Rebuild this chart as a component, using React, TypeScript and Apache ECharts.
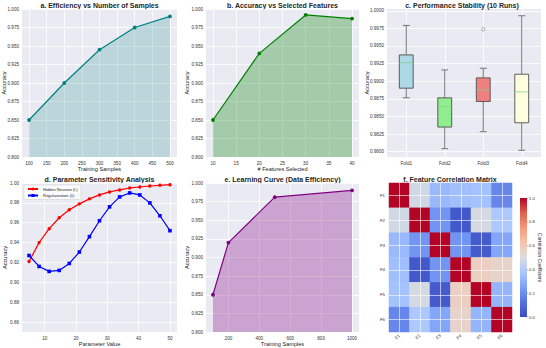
import React, { useEffect, useRef } from 'react';
import * as echarts from 'echarts';

// a. accuracy vs number of training samples
const samplesA = [100, 200, 300, 400, 500];
const accuracyA = [0.85, 0.9, 0.945, 0.975, 0.99];

// b. accuracy vs number of selected features
const featuresB = [10, 20, 30, 40];
const accuracyB = [0.85, 0.94, 0.992, 0.987];

// c. accuracy over 10 runs per fold: [min, q1, median, q3, max]
const folds = ['Fold1', 'Fold2', 'Fold3', 'Fold4'];
const foldStats = [
  [0.98764, 0.98901, 0.99264, 0.99373, 0.99792],
  [0.98042, 0.98349, 0.98637, 0.98764, 0.9916],
  [0.98283, 0.98712, 0.98877, 0.99047, 0.99184],
  [0.98019, 0.9841, 0.98849, 0.99099, 0.99929],
];
const foldOutliers = [[3, 0.99736]];
const foldColors = ['#add8e6', '#90ee90', '#f08080', '#ffffe0'];

// d. parameter sensitivity
const paramValues = [5.0, 8.21, 11.43, 14.64, 17.86, 21.07, 24.29, 27.5, 30.71, 33.93, 37.14, 40.36, 43.57, 46.79, 50.0];
const hiddenNeurons = [0.921, 0.94, 0.954, 0.965, 0.973, 0.979, 0.984, 0.988, 0.991, 0.993, 0.995, 0.996, 0.997, 0.9977, 0.9983];
const regularization = [0.927, 0.916, 0.911, 0.912, 0.919, 0.9305, 0.946, 0.962, 0.976, 0.986, 0.99, 0.988, 0.98, 0.967, 0.952];

// e. learning curve
const samplesE = [100, 200, 500, 1000];
const accuracyE = [0.85, 0.92, 0.981, 0.99];

// f. feature correlation matrix
const featureNames = ['F1', 'F2', 'F3', 'F4', 'F5', 'F6'];
const correlation = [
  [1.0, 0.47, 0.33, 0.35, 0.36, 0.18],
  [0.47, 1.0, 0.22, 0.04, 0.48, 0.38],
  [0.33, 0.22, 1.0, 0.22, 0.05, 0.27],
  [0.35, 0.04, 0.22, 1.0, 0.57, 0.55],
  [0.36, 0.48, 0.05, 0.57, 1.0, 0.32],
  [0.18, 0.38, 0.27, 0.55, 0.32, 1.0],
];

// tick values
const ticksSamplesA = [100, 150, 200, 250, 300, 350, 400, 450, 500];
const ticksFeaturesB = [10, 15, 20, 25, 30, 35, 40];
const ticksAccuracy = [0.8, 0.825, 0.85, 0.875, 0.9, 0.925, 0.95, 0.975, 1.0];
const ticksFoldX = [1, 2, 3, 4];
const ticksFoldY = [0.98, 0.9825, 0.985, 0.9875, 0.99, 0.9925, 0.995, 0.9975, 1.0];
const ticksParamX = [10, 20, 30, 40, 50];
const ticksParamY = [0.86, 0.88, 0.9, 0.92, 0.94, 0.96, 0.98, 1.0];
const ticksSamplesE = [200, 400, 600, 800, 1000];
const ticksCells = [0.5, 1.5, 2.5, 3.5, 4.5, 5.5];
const ticksColorbar = [0, 0.2, 0.4, 0.6, 0.8, 1.0];

const coolwarm = ['#3b4cc0', '#5572df', '#7b9ff9', '#aac7fd', '#dddddd', '#f5c4ad', '#f49a7b', '#de604d', '#b40426'];

const FONT = 'Liberation Sans, Arial, sans-serif';
const BG = '#eaeaf2';
const TEXT = '#262626';
const TICK_SIZE = 4.6;
const WHITE_GRID = { show: true, lineStyle: { color: '#ffffff', width: 0.8 } };

function xValue(gridIndex: number, min: number, max: number, ticks: number[], name: string, fmt?: (v: number) => string) {
  return {
    type: 'value', gridIndex, min, max,
    name, nameLocation: 'middle', nameGap: 9, nameMoveOverlap: false,
    nameTextStyle: { fontSize: 5.6, color: TEXT },
    axisLine: { show: false },
    axisTick: { show: false, customValues: ticks },
    axisLabel: {
      customValues: ticks, fontSize: TICK_SIZE, color: '#333', margin: 3.5,
      formatter: fmt || ((v: number) => String(v)),
    },
    splitLine: WHITE_GRID,
  };
}

function yValue(gridIndex: number, min: number, max: number, ticks: number[], digits: number, nameGap: number) {
  return {
    type: 'value', gridIndex, min, max,
    name: 'Accuracy', nameLocation: 'middle', nameGap, nameMoveOverlap: false,
    nameTextStyle: { fontSize: 5.6, color: TEXT },
    axisLine: { show: false },
    axisTick: { show: false, customValues: ticks },
    axisLabel: { customValues: ticks, fontSize: TICK_SIZE, color: '#333', margin: 3, formatter: (v: number) => v.toFixed(digits) },
    splitLine: WHITE_GRID,
  };
}

function areaLine(axis: number, xs: number[], ys: number[], color: string, opacity: number) {
  return {
    type: 'line', xAxisIndex: axis, yAxisIndex: axis,
    data: xs.map((x, i) => [x, ys[i]]),
    symbol: 'circle', symbolSize: 3.8,
    lineStyle: { color, width: 1.2 },
    itemStyle: { color },
    areaStyle: { color, opacity },
  };
}

function buildOption(): any {
  const gridBase = { show: true, backgroundColor: BG, borderWidth: 0, containLabel: false, outerBoundsMode: 'none' };
  const grids = [
    { ...gridBase, left: 22, top: 9, width: 155, height: 148 },
    { ...gridBase, left: 206, top: 9, width: 153, height: 148 },
    { ...gridBase, left: 387, top: 9, width: 154, height: 148 },
    { ...gridBase, left: 22, top: 183, width: 155, height: 149 },
    { ...gridBase, left: 206, top: 183, width: 153, height: 149 },
    { ...gridBase, show: false, left: 389, top: 183, width: 123, height: 149 },
    { ...gridBase, show: false, left: 389, top: 183, width: 123, height: 149 },
    { ...gridBase, show: false, left: 520, top: 198, width: 7, height: 119 },
  ];

  const cellLines = {
    type: 'value', min: 0, max: 6, z: 10,
    axisLine: { show: false },
    axisTick: { show: false, customValues: ticksCells },
    axisLabel: { show: false, customValues: ticksCells },
    splitLine: { show: true, lineStyle: { color: '#ffffff', width: 0.7, opacity: 0.85 } },
  };

  const xAxes = [
    xValue(0, 80, 520, ticksSamplesA, 'Training Samples'),
    xValue(1, 8.5, 41.5, ticksFeaturesB, '# Features Selected'),
    xValue(2, 0.5, 4.5, ticksFoldX, '', (v: number) => folds[Math.round(v) - 1]),
    xValue(3, 2.75, 52.25, ticksParamX, 'Parameter Value'),
    xValue(4, 55, 1045, ticksSamplesE, 'Training Samples'),
    {
      type: 'category', gridIndex: 5, data: featureNames,
      axisLine: { show: false }, axisTick: { show: false },
      axisLabel: { rotate: 45, fontSize: 4.4, color: '#333', margin: 3 },
      splitLine: { show: false },
    },
    { ...cellLines, gridIndex: 6 },
    { type: 'category', gridIndex: 7, data: [''], show: false },
  ];

  const yAxes = [
    yValue(0, 0.8, 1.0, ticksAccuracy, 3, 15),
    yValue(1, 0.8, 1.0, ticksAccuracy, 3, 16),
    yValue(2, 0.97924, 1.00025, ticksFoldY, 4, 17.5),
    yValue(3, 0.85, 1.0, ticksParamY, 2, 14),
    yValue(4, 0.8, 1.0, ticksAccuracy, 3, 16),
    {
      type: 'category', gridIndex: 5, data: featureNames, inverse: true,
      axisLine: { show: false }, axisTick: { show: false },
      axisLabel: { fontSize: 4.4, color: '#333', margin: 4 },
      splitLine: { show: false },
    },
    { ...cellLines, gridIndex: 6 },
    {
      type: 'value', gridIndex: 7, min: 0, max: 1, position: 'right',
      name: 'Correlation Coefficient', nameLocation: 'middle', nameGap: 10.5, nameRotate: -90,
      nameMoveOverlap: false,
      nameTextStyle: { fontSize: 5, color: TEXT },
      axisLine: { show: false },
      axisTick: { show: true, length: 1.5, customValues: ticksColorbar, lineStyle: { color: '#333', width: 0.4 } },
      axisLabel: { customValues: ticksColorbar, fontSize: 4.2, color: '#333', margin: 2, formatter: (v: number) => v.toFixed(1) },
      splitLine: { show: false },
    },
  ];

  const boxSeries = {
    type: 'custom', xAxisIndex: 2, yAxisIndex: 2,
    data: foldStats.map((s, i) => [i + 1, ...s]),
    encode: { x: 0, y: [1, 2, 3, 4, 5] },
    renderItem: (params: any, api: any) => {
      const x = api.value(0);
      const lo = api.value(1), q1 = api.value(2), med = api.value(3), q3 = api.value(4), hi = api.value(5);
      const hw = 0.18, cw = 0.09;
      const tl = api.coord([x - hw, q3]);
      const br = api.coord([x + hw, q1]);
      const mL = api.coord([x - hw, med]);
      const mR = api.coord([x + hw, med]);
      const pHi = api.coord([x, hi]);
      const pQ3 = api.coord([x, q3]);
      const pQ1 = api.coord([x, q1]);
      const pLo = api.coord([x, lo]);
      const cHiL = api.coord([x - cw, hi]);
      const cHiR = api.coord([x + cw, hi]);
      const cLoL = api.coord([x - cw, lo]);
      const cLoR = api.coord([x + cw, lo]);
      const whisker = { stroke: '#666666', lineWidth: 0.9, fill: null };
      return {
        type: 'group',
        children: [
          { type: 'line', shape: { x1: pHi[0], y1: pHi[1], x2: pQ3[0], y2: pQ3[1] }, style: whisker },
          { type: 'line', shape: { x1: pQ1[0], y1: pQ1[1], x2: pLo[0], y2: pLo[1] }, style: whisker },
          { type: 'line', shape: { x1: cHiL[0], y1: cHiL[1], x2: cHiR[0], y2: cHiR[1] }, style: whisker },
          { type: 'line', shape: { x1: cLoL[0], y1: cLoL[1], x2: cLoR[0], y2: cLoR[1] }, style: whisker },
          {
            type: 'rect',
            shape: { x: tl[0], y: tl[1], width: br[0] - tl[0], height: br[1] - tl[1] },
            style: { fill: foldColors[params.dataIndex], stroke: '#4d4d4d', lineWidth: 0.9 },
          },
          {
            type: 'line',
            shape: { x1: mL[0], y1: mL[1], x2: mR[0], y2: mR[1] },
            style: { stroke: '#7fd08f', lineWidth: 1, opacity: 0.75 },
          },
        ],
      };
    },
  };

  const heatData: number[][] = [];
  correlation.forEach((row, i) => row.forEach((v, j) => heatData.push([j, i, v])));

  const titles = [
    { text: 'a. Efficiency vs Number of Samples', x: 99.5, y: 5 },
    { text: 'b. Accuracy vs Selected Features', x: 282.5, y: 5 },
    { text: 'c. Performance Stability (10 Runs)', x: 462, y: 5 },
    { text: 'd. Parameter Sensitivity Analysis', x: 99.5, y: 179 },
    { text: 'e. Learning Curve (Data Efficiency)', x: 282.5, y: 179 },
    { text: 'f. Feature Correlation Matrix', x: 450, y: 179 },
  ];

  return {
    animation: false,
    backgroundColor: '#ffffff',
    textStyle: { fontFamily: FONT },
    grid: grids,
    xAxis: xAxes,
    yAxis: yAxes,
    legend: {
      show: true, orient: 'vertical', left: 24, top: 185,
      data: ['Hidden Neurons (L)', 'Regularization (λ)'],
      itemWidth: 10, itemHeight: 3.8, itemGap: 2.5,
      padding: [2, 3, 2, 3],
      backgroundColor: 'rgba(255,255,255,0.8)',
      borderColor: '#cccccc', borderWidth: 0.5, borderRadius: 1.5,
      textStyle: { fontSize: 4, color: TEXT },
    },
    visualMap: {
      show: false, type: 'continuous', min: 0, max: 1, seriesIndex: 7,
      inRange: { color: coolwarm },
    },
    graphic: titles.map((t) => ({
      type: 'text', x: t.x, y: t.y,
      style: {
        text: t.text, fill: TEXT, fontSize: 7, fontWeight: 'bold', fontFamily: FONT,
        align: 'center', verticalAlign: 'middle', textAlign: 'center', textVerticalAlign: 'middle',
      },
    })),
    series: [
      areaLine(0, samplesA, accuracyA, '#008080', 0.2),
      areaLine(1, featuresB, accuracyB, '#008000', 0.3),
      boxSeries,
      {
        type: 'scatter', xAxisIndex: 2, yAxisIndex: 2,
        data: foldOutliers, symbol: 'circle', symbolSize: 3.4,
        itemStyle: { color: 'rgba(0,0,0,0)', borderColor: '#555555', borderWidth: 0.6 },
      },
      {
        type: 'line', name: 'Hidden Neurons (L)', xAxisIndex: 3, yAxisIndex: 3,
        data: paramValues.map((x, i) => [x, hiddenNeurons[i]]),
        symbol: 'circle', symbolSize: 3.4,
        lineStyle: { color: '#ff0000', width: 1.2 }, itemStyle: { color: '#ff0000' },
      },
      {
        type: 'line', name: 'Regularization (λ)', xAxisIndex: 3, yAxisIndex: 3,
        data: paramValues.map((x, i) => [x, regularization[i]]),
        symbol: 'rect', symbolSize: 3.6,
        lineStyle: { color: '#0000ff', width: 1.2 }, itemStyle: { color: '#0000ff' },
      },
      areaLine(4, samplesE, accuracyE, '#800080', 0.3),
      {
        type: 'heatmap', xAxisIndex: 5, yAxisIndex: 5, data: heatData,
      },
      {
        type: 'bar', xAxisIndex: 7, yAxisIndex: 7, data: [1], barWidth: '100%',
        itemStyle: {
          color: new echarts.graphic.LinearGradient(0, 1, 0, 0,
            coolwarm.map((c, i) => ({ offset: i / (coolwarm.length - 1), color: c }))),
        },
      },
    ],
  };
}

export default function App() {
  const ref = useRef<HTMLDivElement>(null);
  useEffect(() => {
    if (!ref.current) return;
    const chart = echarts.init(ref.current, null, { renderer: 'svg' });
    chart.setOption(buildOption());
    return () => chart.dispose();
  }, []);
  return (
    <div
      ref={ref}
      style={{ position: 'fixed', left: 0, top: 0, width: 546, height: 348, background: '#ffffff' }}
    />
  );
}
